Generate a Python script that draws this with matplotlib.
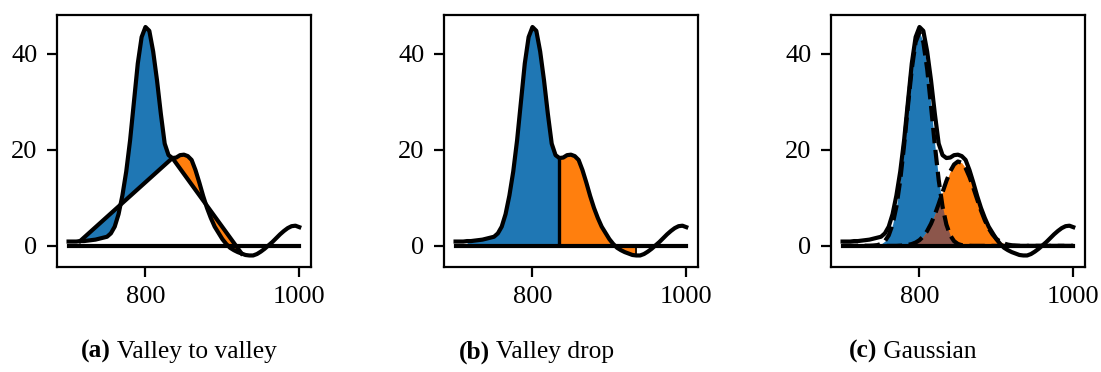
import numpy as np
import matplotlib.pyplot as plt

plt.rcParams['font.family'] = ['Liberation Serif', 'DejaVu Serif']
plt.rcParams['font.size'] = 9.5

# спектр (сумма двух пиков + фон), шаг 5
wl = np.arange(700, 1001, 5)
signal = [0.9, 0.9, 0.9, 1.0, 1.0, 1.1, 1.2, 1.3, 1.5, 1.7,
          1.9, 2.6, 4.0, 6.6, 10.5, 15.5, 22.0, 30.0, 38.0, 43.5,
          45.6, 44.8, 40.5, 34.5, 27.5, 21.3, 18.9, 18.3, 18.4, 18.9,
          19.0, 18.7, 17.9, 15.8, 13.2, 10.4, 7.9, 5.8, 4.0, 2.7,
          1.4, 0.4, -0.4, -0.9, -1.3, -1.6, -1.9, -2.0, -2.0, -1.7,
          -1.2, -0.6, 0.1, 0.8, 1.6, 2.4, 3.1, 3.7, 4.1, 4.2, 3.9]

# гауссовы компоненты для (c)
gauss1 = [0, 0, 0, 0, 0, 0, 0, 0, 0.05, 0.15,
          0.4, 0.98, 2.19, 4.44, 8.18, 13.72, 20.96, 29.14, 36.87, 42.45,
          44.5, 42.45, 36.87, 29.14, 20.96, 13.72, 8.18, 4.44, 2.19, 0.98,
          0.4, 0.15, 0.05, 0.02, 0, 0, 0, 0, 0, 0,
          0, 0, 0, 0, 0, 0, 0, 0, 0, 0,
          0, 0, 0, 0, 0, 0, 0, 0, 0, 0, 0]
gauss2 = [0, 0, 0, 0, 0, 0, 0, 0, 0, 0,
          0, 0, 0, 0, 0, 0.05, 0.1, 0.2, 0.38, 0.69,
          1.2, 1.98, 3.10, 4.61, 6.52, 8.76, 11.16, 13.51, 15.53, 16.96,
          17.58, 17.31, 16.19, 14.37, 12.12, 9.71, 7.38, 5.33, 3.66, 2.38,
          1.47, 0.87, 0.48, 0.26, 0.13, 0.06, 0, 0, 0, 0,
          0, 0, 0, 0, 0, 0, 0, 0, 0, 0, 0]

# точки долин для (a) и границы для (b)
valley_x = [715, 835, 925]
valley_y = [1.0, 18.3, -1.6]
split_x = 835
end_x = 935

captions = ["Valley to valley", "Valley drop", "Gaussian"]
letters = ["(a)", "(b)", "(c)"]
caption_centers = [0.1626, 0.4877, 0.8288]

signal = np.array(signal)
gauss1 = np.array(gauss1)
gauss2 = np.array(gauss2)

fig = plt.figure(figsize=(5.505, 1.86), dpi=200)
lefts = [0.0518, 0.4033, 0.7548]
axes = [fig.add_axes([l, 0.2823, 0.2305, 0.6774]) for l in lefts]

lw = 1.5
blue, orange, brown = "#1f77b4", "#ff7f0e", "#8c564b"

# (a) valley to valley
ax = axes[0]
m1 = (wl >= valley_x[0]) & (wl <= valley_x[1])
m2 = (wl >= valley_x[1]) & (wl <= valley_x[2])
base = np.interp(wl, valley_x, valley_y)
ax.fill_between(wl[m1], base[m1], signal[m1], color=blue, lw=0)
ax.fill_between(wl[m2], base[m2], signal[m2], color=orange, lw=0)
ax.plot(valley_x, valley_y, color="k", lw=lw)

# (b) valley drop
ax = axes[1]
m1 = (wl >= valley_x[0]) & (wl <= split_x)
m2 = (wl >= split_x) & (wl <= end_x)
ax.fill_between(wl[m1], 0, signal[m1], color=blue, lw=0)
ax.fill_between(wl[m2], 0, signal[m2], color=orange, lw=0)
ax.vlines(split_x, 0, signal[wl == split_x], color="k", lw=lw * 0.8)
ax.vlines(end_x, 0, signal[wl == end_x], color="k", lw=0.6)

# (c) gaussian
ax = axes[2]
ax.fill_between(wl, 0, gauss1, color=blue, lw=0)
ax.fill_between(wl, 0, gauss2, color=orange, lw=0)
ax.fill_between(wl, 0, np.minimum(gauss1, gauss2), color=brown, lw=0)
ax.plot(wl, gauss1, "k--", lw=lw)
ax.plot(wl, gauss2, "k--", lw=lw)

renderer = fig.canvas.get_renderer()
for ax, letter, cap, cx in zip(axes, letters, captions, caption_centers):
    ax.plot(wl, signal, color="k", lw=lw)
    ax.plot([700, 1000], [0, 0], color="k", lw=lw)
    ax.set_xticks([800, 1000])
    ax.set_yticks([0, 20, 40])
    ax.set_xlim(685, 1015)
    ax.set_ylim(-4.4, 48.1)
    # подпись: жирная буква + обычный текст, по центру
    t1 = fig.text(0, 0.054, letter, fontweight="bold", va="center", fontsize=9.2)
    t2 = fig.text(0, 0.054, " " + cap, va="center", fontsize=9.2)
    w1 = t1.get_window_extent(renderer).width / fig.bbox.width
    w2 = t2.get_window_extent(renderer).width / fig.bbox.width
    x0 = cx - (w1 + w2) / 2
    t1.set_x(x0)
    t2.set_x(x0 + w1)

fig.savefig("out.png", dpi=200)
